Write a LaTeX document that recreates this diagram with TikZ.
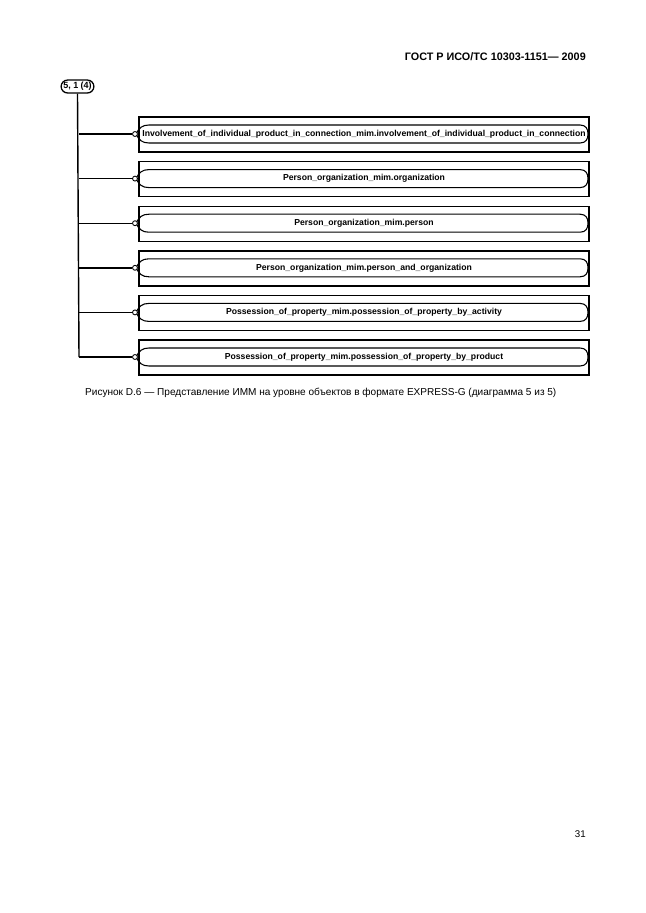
\documentclass[tikz,border=0pt]{standalone}
\usepackage{fontspec}
\setmainfont{Liberation Sans}
\tikzset{
  refbox/.style={draw, line width=1.2pt, rounded corners=6pt, inner xsep=2pt, inner ysep=1pt, minimum height=0.42cm, font=\bfseries\fontsize{8.3}{9}\selectfont},
  boxline/.style={line width=1.3pt},
  inshape/.style={line width=1pt},
  enttext/.style={font=\bfseries\fontsize{8}{9}\selectfont, inner sep=0pt},
  pin/.style={circle, draw, fill=white, line width=0.8pt, minimum size=0.16cm, inner sep=0pt},
  conn/.style={line width=1.3pt}
}
\begin{document}
\begin{tikzpicture}[x=0.0325cm, y=-0.0325cm]
    \useasboundingbox (0,0) rectangle (646,913);

    \node[anchor=east, font=\bfseries\fontsize{10}{12}\selectfont, inner sep=0pt] (head) at (586,57) {ГОСТ Р ИСО/ТС 10303-1151— 2009};

    \node[refbox] (ref) at (77.5,86.5) {5, 1 (4)};

    \foreach \i/\txt in {1/Involvement\_of\_individual\_product\_in\_connection\_mim.involvement\_of\_individual\_product\_in\_connection,
                         2/Person\_organization\_mim.organization,
                         3/Person\_organization\_mim.person,
                         4/Person\_organization\_mim.person\_and\_organization,
                         5/Possession\_of\_property\_mim.possession\_of\_property\_by\_activity,
                         6/Possession\_of\_property\_mim.possession\_of\_property\_by\_product} {
        \pgfmathsetmacro\c{134+44.6*(\i-1)}
        \draw[boxline] (139,\c-17) rectangle (589,\c+18);
        \draw[inshape] (136,\c) .. controls (139,\c-6) and (142,\c-9) .. (149,\c-9) -- (580,\c-9)
            .. controls (586,\c-9) and (588,\c-5) .. (588,\c)
            .. controls (588,\c+5) and (586,\c+9) .. (580,\c+9) -- (149,\c+9)
            .. controls (142,\c+9) and (139,\c+6) .. (136,\c);
        \node[enttext] (ent\i) at (364,\c) {\txt};
        \node[pin] (pin\i) at (135,\c) {};
        \coordinate (tr\i) at (79,\c);
        \draw[conn] (tr\i) -- (pin\i);
    }
    \draw[conn] (ref.south) -- (tr6);

    \node[anchor=west, font=\fontsize{9.3}{11}\selectfont, inner sep=0pt] (cap) at (85,393) {Рисунок D.6 — Представление ИММ на уровне объектов в формате EXPRESS-G (диаграмма 5 из 5)};

    \node[anchor=east, font=\fontsize{9}{10}\selectfont, inner sep=0pt] (page) at (586,834) {31};

\end{tikzpicture}
\end{document}
